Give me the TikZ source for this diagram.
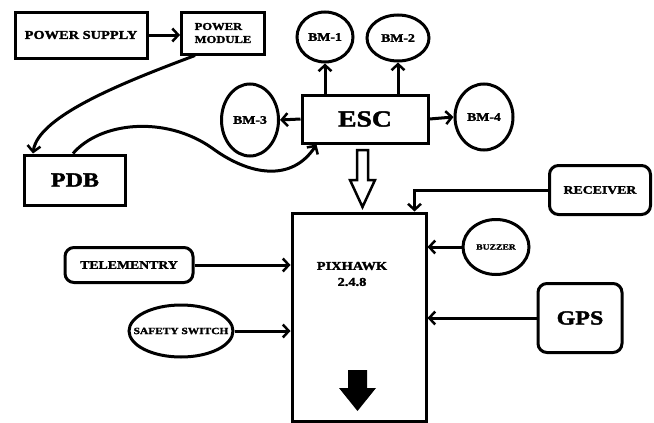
\documentclass[tikz,border=0pt]{standalone}
\usepackage{fontspec}
\setmainfont{Liberation Serif}[FakeStretch=1.2, BoldFeatures={FakeBold=2}]
\usetikzlibrary{arrows.meta,positioning,shapes.geometric}

\begin{document}
\begin{tikzpicture}[x=1pt,y=-1pt]
\tikzset{every node/.style={font=\bfseries, inner sep=0pt, align=center}}
\tikzset{box/.style={draw, line width=3pt, rectangle}}
\tikzset{rbox/.style={box, rounded corners=9pt}}
\tikzset{oval/.style={draw, line width=3pt, ellipse}}
\tikzset{wire/.style={line width=3pt, -{Straight Barb[length=6pt,width=13pt,line width=2.5pt]}}}
\useasboundingbox (0,0) rectangle (654,423);
% power side
\node[box, minimum width=132pt, minimum height=46pt, font=\bfseries\fontsize{12}{12}\selectfont] (supply) at (81,35) {POWER SUPPLY};
\node[box, minimum width=83pt, minimum height=42pt, align=left, font=\bfseries\fontsize{10.5}{13}\selectfont] (pmod) at (223,33) {POWER\\MODULE};
\node[box, minimum width=101pt, minimum height=50pt, font=\bfseries\fontsize{20}{20}\selectfont] (pdb) at (75,180) {PDB};
% esc and motors
\node[box, minimum width=126pt, minimum height=48pt, font=\bfseries\fontsize{23}{23}\selectfont] (esc) at (365,119) {ESC};
\node[oval, minimum width=56pt, minimum height=50pt, font=\bfseries\fontsize{11.5}{12}\selectfont] (bm1) at (325,37) {BM-1};
\node[oval, minimum width=62pt, minimum height=46pt, font=\bfseries\fontsize{11.5}{12}\selectfont] (bm2) at (398,38) {BM-2};
\node[oval, minimum width=57pt, minimum height=72pt, font=\bfseries\fontsize{11.5}{12}\selectfont] (bm3) at (250,120) {BM-3};
\node[oval, minimum width=58pt, minimum height=66pt, font=\bfseries\fontsize{11.5}{12}\selectfont] (bm4) at (484,117) {BM-4};
% flight controller
\node[box, minimum width=134pt, minimum height=208pt] (pxh) at (359,317) {};
\node[font=\bfseries\fontsize{12}{16}\selectfont] (pxhtxt) at (352,274) {PIXHAWK\\2.4.8};
\node[rbox, minimum width=128pt, minimum height=35pt, font=\bfseries\fontsize{11.5}{12}\selectfont] (telem) at (129,265) {TELEMENTRY};
\node[oval, minimum width=104pt, minimum height=52pt, inner xsep=-16pt, font=\bfseries\fontsize{9.5}{10}\selectfont] (safety) at (181,331) {SAFETY SWITCH};
\node[rbox, minimum width=101pt, minimum height=49pt, font=\bfseries\fontsize{11.5}{12}\selectfont] (recv) at (600,190) {RECEIVER};
\node[oval, minimum width=66pt, minimum height=55pt, font=\bfseries\fontsize{8}{8}\selectfont] (buzz) at (496,247) {BUZZER};
\node[rbox, minimum width=84pt, minimum height=69pt, font=\bfseries\fontsize{20}{20}\selectfont] (gps) at (580,318) {GPS};

\draw[wire] (supply.east) -- (supply.east -| pmod.west);
\draw[wire] ([xshift=-28pt]pmod.south) .. controls (130,80) and (38,115) .. ([xshift=10pt]pdb.north west);
\draw[wire] ([xshift=-2pt]pdb.north) .. controls (100,122) and (165,115) .. (212,148)
  .. controls (250,176) and (292,182) .. ([xshift=16pt]esc.south west);
\draw[wire] (bm1.south |- esc.north) -- (bm1.south);
\draw[wire] (bm2.south |- esc.north) -- (bm2.south);
\draw[wire] (esc.west) -- (bm3.east);
\draw[wire] (esc.east) -- (bm4.west);
\draw[wire] (telem.east) -- (telem.east -| pxh.west);
\draw[wire] (safety.east) -- (safety.east -| pxh.west);
\draw[wire] (buzz.west) -- (buzz.west -| pxh.east);
\draw[wire] (gps.west) -- (gps.west -| pxh.east);
\draw[wire] (recv.west) -| ([xshift=-13pt]pxh.north east);
% block arrows
\draw[line width=2.5pt, line join=miter] (357,150) -- (368,150) -- (368,180) -- (375,180) -- (362.5,207) -- (350,180) -- (357,180) -- cycle;
\fill (348,370) -- (367,370) -- (367,388) -- (376,388) -- (357.5,411) -- (339,388) -- (348,388) -- cycle;
\end{tikzpicture}
\end{document}
